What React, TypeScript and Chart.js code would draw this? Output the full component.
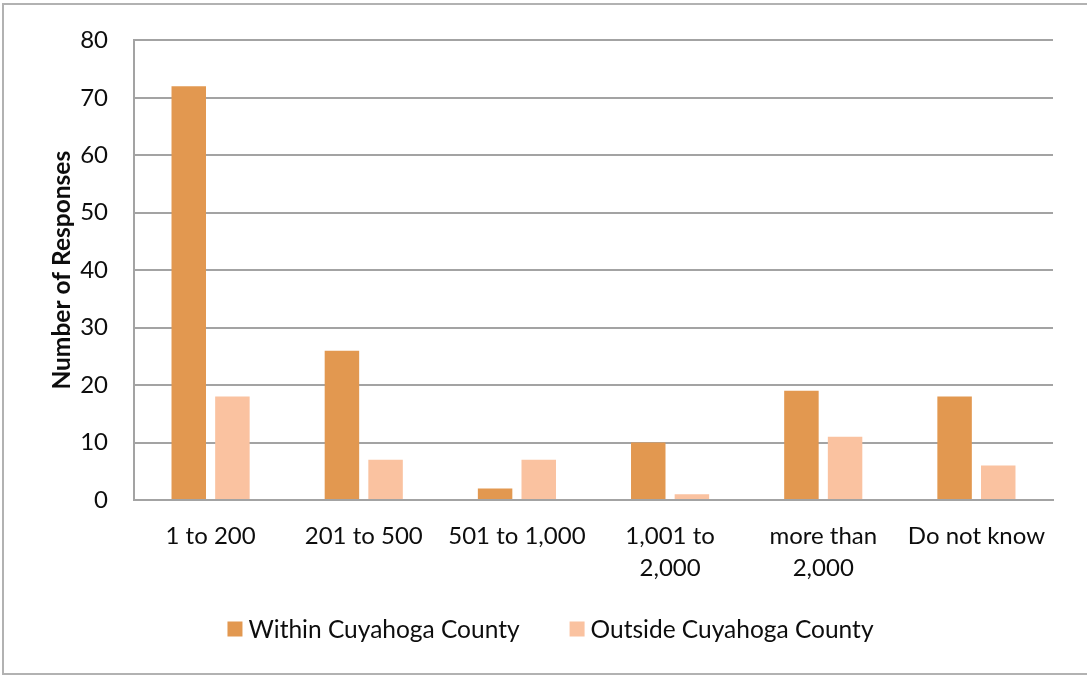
import { useEffect, useRef } from "react";
import { Chart, registerables } from "chart.js";

Chart.register(...registerables);

// Category labels (multi-line where the axis wraps them)
const categories: string[][] = [
  ["1 to 200"],
  ["201 to 500"],
  ["501 to 1,000"],
  ["1,001 to", "2,000"],
  ["more than", "2,000"],
  ["Do not know"],
];

const seriesNames = ["Within Cuyahoga County", "Outside Cuyahoga County"];
const withinCounty = [72, 26, 2, 10, 19, 18];
const outsideCounty = [18, 7, 7, 1, 11, 6];

const yMin = 0;
const yMax = 80;
const yStep = 10;
const yTitle = "Number of Responses";

const WITHIN_COLOR = "#E29850";
const OUTSIDE_COLOR = "#FAC2A0";
const GRID_COLOR = "#A3A3A3";
const TEXT_COLOR = "#0d0d0d";
const FONT_FAMILY = "Lato, 'Open Sans', sans-serif";

// Legend drawn below the axis: square swatch followed by the series name
const bottomLegend = {
  id: "bottomLegend",
  afterDraw(chart: any) {
    const { ctx } = chart;
    ctx.save();
    ctx.font = `24.5px ${FONT_FAMILY}`;
    ctx.textBaseline = "middle";
    ctx.textAlign = "left";
    const box = 15;
    const textGap = 6;
    const itemGap = 50;
    const items = chart.data.datasets.map((ds: any) => ({
      label: ds.label as string,
      color: ds.backgroundColor as string,
      w: ctx.measureText(ds.label).width,
    }));
    const total =
      items.reduce((s: number, it: any) => s + box + textGap + it.w, 0) +
      itemGap * (items.length - 1);
    let x = chart.width / 2 + 7 - total / 2;
    const y = 629;
    for (const it of items) {
      ctx.fillStyle = it.color;
      ctx.fillRect(x, y - box / 2, box, box);
      x += box + textGap;
      ctx.fillStyle = TEXT_COLOR;
      ctx.fillText(it.label, x, y + 1);
      x += it.w + itemGap;
    }
    ctx.restore();
  },
};

export default function App() {
  const canvasRef = useRef<HTMLCanvasElement | null>(null);

  useEffect(() => {
    document.body.style.margin = "0";
    document.body.style.overflow = "hidden";
    const canvas = canvasRef.current;
    if (!canvas) return;
    const chart = new Chart(canvas, {
      type: "bar",
      data: {
        labels: categories,
        datasets: [
          {
            label: seriesNames[0],
            data: withinCounty,
            backgroundColor: WITHIN_COLOR,
            barPercentage: 0.79,
            categoryPercentage: 0.57,
          },
          {
            label: seriesNames[1],
            data: outsideCounty,
            backgroundColor: OUTSIDE_COLOR,
            barPercentage: 0.79,
            categoryPercentage: 0.57,
          },
        ],
      },
      options: {
        responsive: false,
        animation: false,
        layout: { padding: { left: 0, top: 39, right: 34, bottom: 75 } },
        plugins: {
          legend: { display: false },
          tooltip: { enabled: false },
        },
        scales: {
          x: {
            grid: { display: false, drawTicks: false },
            border: { display: true, color: GRID_COLOR, width: 2 },
            ticks: {
              color: TEXT_COLOR,
              font: { family: FONT_FAMILY, size: 24, lineHeight: 1.33 },
              padding: 20,
              maxRotation: 0,
              autoSkip: false,
            },
            afterFit: (scale: any) => {
              scale.height = 100;
            },
          },
          y: {
            min: yMin,
            max: yMax,
            grid: { color: GRID_COLOR, lineWidth: 2, drawTicks: false },
            border: { display: true, color: GRID_COLOR, width: 2 },
            ticks: {
              stepSize: yStep,
              color: TEXT_COLOR,
              font: { family: FONT_FAMILY, size: 24 },
              padding: 26,
            },
            title: {
              display: true,
              text: yTitle,
              color: TEXT_COLOR,
              font: { family: FONT_FAMILY, size: 24.5, weight: "bold" },
              padding: { top: 47, bottom: 0 },
            },
            afterFit: (scale: any) => {
              scale.width = 134;
            },
          },
        },
      },
      plugins: [bottomLegend],
    });
    return () => chart.destroy();
  }, []);

  return (
    <div style={{ position: "fixed", left: 0, top: 0, width: 1087, height: 675, overflow: "hidden", background: "#fff" }}>
      <div
        style={{
          position: "absolute",
          left: 2,
          top: 3,
          width: 1200,
          height: 668,
          border: "2px solid #B2B2B2",
        }}
      />
      <canvas ref={canvasRef} width={1087} height={675} style={{ position: "absolute", left: 0, top: 0 }} />
    </div>
  );
}
